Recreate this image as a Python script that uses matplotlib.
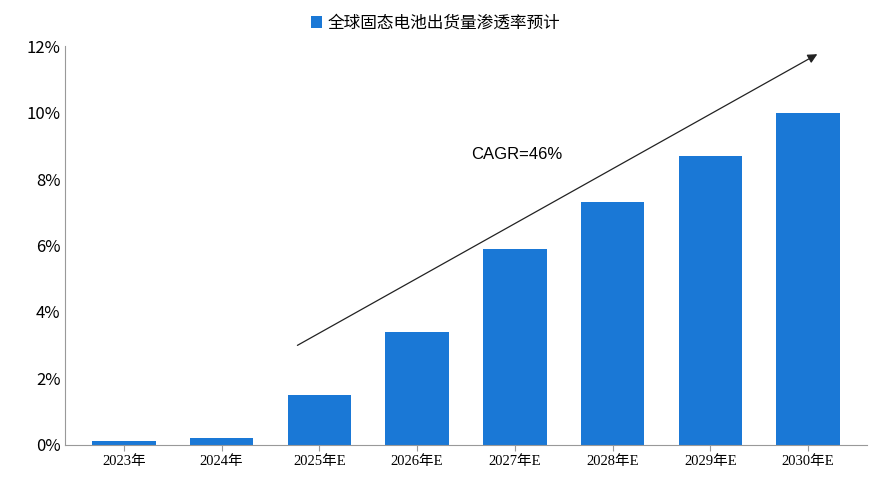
import matplotlib.pyplot as plt
from matplotlib.ticker import FuncFormatter

plt.rcParams['font.family'] = ['Noto Sans CJK SC', 'DejaVu Sans']

years = ['2023年', '2024年', '2025年E', '2026年E', '2027年E', '2028年E', '2029年E', '2030年E']
penetration = [0.1, 0.2, 1.5, 3.4, 5.9, 7.3, 8.7, 10.0]
series_name = '全球固态电池出货量渗透率预计'

fig = plt.figure(figsize=(8.71, 4.86), dpi=100)
ax = fig.add_axes([0.075, 0.085, 0.92, 0.82])

x = range(len(years))
ax.bar(x, penetration, width=0.65, color='#1a78d6', label=series_name)

ax.set_ylim(0, 12)
ax.set_xlim(-0.6, len(years) - 0.4)
ax.set_yticks(range(0, 13, 2))
ax.yaxis.set_major_formatter(FuncFormatter(lambda v, p: f'{v:.0f}%'))
ax.set_xticks(list(x))
ax.set_xticklabels(years, family=['Liberation Serif', 'Noto Sans CJK SC'], fontsize=10.5)
ax.tick_params(axis='y', labelsize=12, length=0)
ax.tick_params(axis='x', length=4, color='#999999')
for s in ['top', 'right']:
    ax.spines[s].set_visible(False)
for s in ['left', 'bottom']:
    ax.spines[s].set_color('#999999')

ax.annotate('', xy=(7.12, 11.8), xytext=(1.75, 2.95),
            arrowprops=dict(arrowstyle='-|>', color='#222222', lw=0.9, mutation_scale=14))
ax.text(3.55, 8.6, 'CAGR=46%', fontsize=12, family='Liberation Sans')

leg = fig.legend(loc='upper center', bbox_to_anchor=(0.5, 1.0), frameon=False,
                 fontsize=12, handlelength=0.7, handleheight=0.7, handletextpad=0.3)

fig.savefig('out.png', dpi=100)
